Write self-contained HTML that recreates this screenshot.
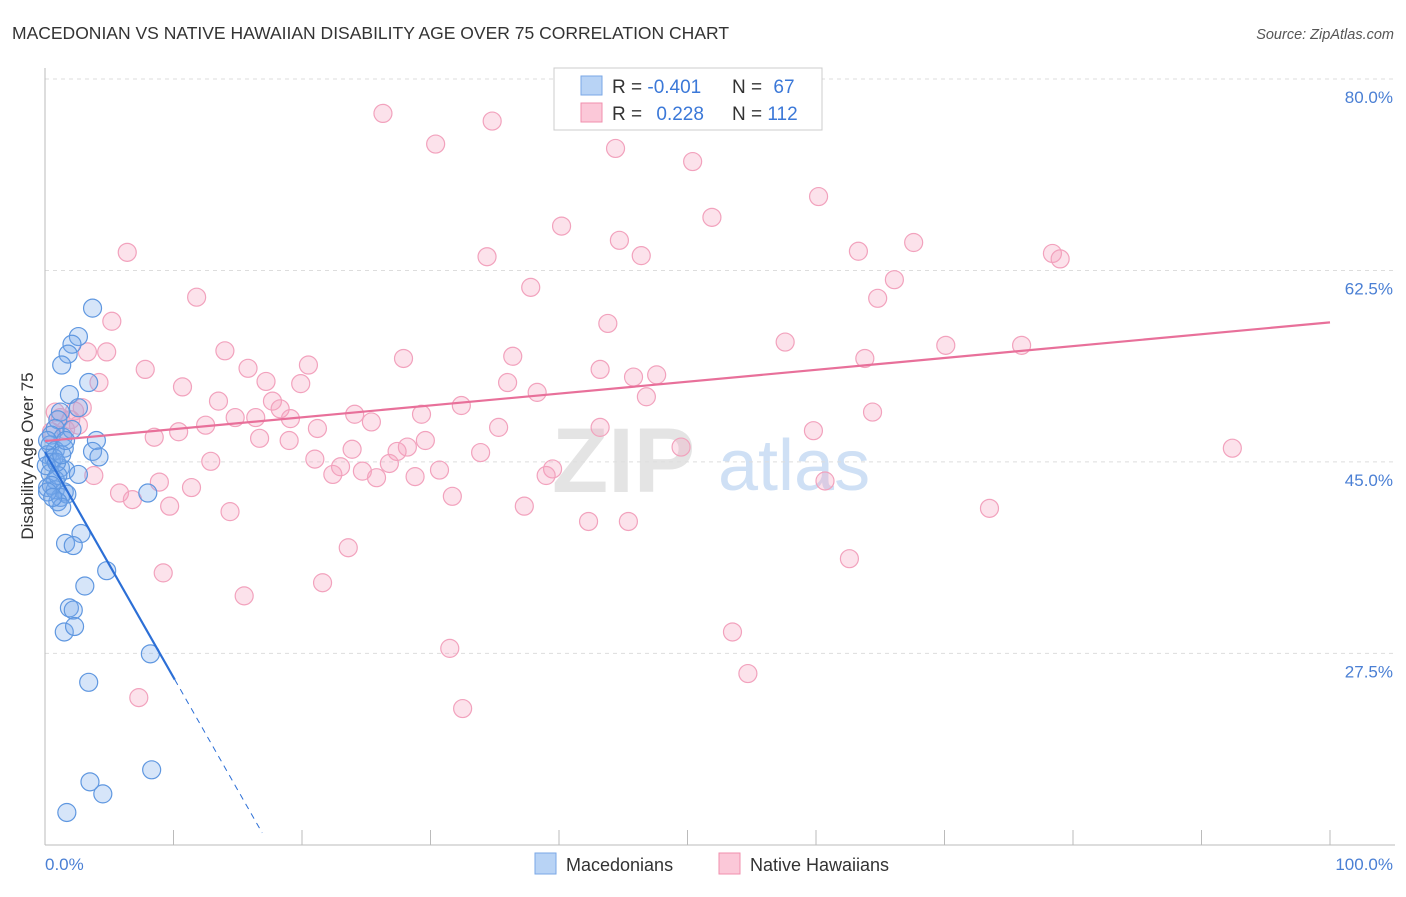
<!DOCTYPE html>
<html><head><meta charset="utf-8"><style>
body{margin:0;background:#fff;font-family:"Liberation Sans",sans-serif;}
svg text{font-family:"Liberation Sans",sans-serif;}
</style></head><body>
<svg id="chart" width="1406" height="892" xmlns="http://www.w3.org/2000/svg">
<text x="12" y="39" font-size="17.5" fill="#333">MACEDONIAN VS NATIVE HAWAIIAN DISABILITY AGE OVER 75 CORRELATION CHART</text>
<text x="1394" y="39" font-size="14.5" fill="#555" text-anchor="end" font-style="italic">Source: ZipAtlas.com</text>
<g>
<text x="552" y="492" font-size="92" font-family="Liberation Serif" fill="#e4e4e4" font-weight="bold">ZIP</text>
<text x="718" y="490" font-size="72" fill="#cfe0f5">atlas</text>
</g>
<g id="grid"></g>
<line x1="45" y1="68" x2="45" y2="845" stroke="#bbb"/>
<line x1="45" y1="845" x2="1395" y2="845" stroke="#bbb"/>
<g id="ticks"></g>
<text transform="translate(33,456) rotate(-90)" font-size="17" fill="#333" text-anchor="middle">Disability Age Over 75</text>
<text x="45" y="870" font-size="17" fill="#4a7fd4">0.0%</text>
<text x="1393" y="870" font-size="17" fill="#4a7fd4" text-anchor="end">100.0%</text>
<g id="points"></g>
<g id="lines"></g>
<g>
<rect x="554" y="68" width="268" height="62" fill="#fff" stroke="#ccc"/>
<rect x="581" y="76" width="21" height="19" fill="#b8d3f5" stroke="#7aa7e6"/>
<rect x="581" y="103" width="21" height="19" fill="#fbc8d8" stroke="#f08fae"/>
<text x="612" y="93" font-size="19" fill="#333">R = <tspan fill="#3b78d8">-0.401</tspan></text>
<text x="732" y="93" font-size="19" fill="#333">N = <tspan fill="#3b78d8" dx="6">67</tspan></text>
<text x="612" y="120" font-size="19" fill="#333">R = <tspan fill="#3b78d8" dx="9">0.228</tspan></text>
<text x="732" y="120" font-size="19" fill="#333">N = <tspan fill="#3b78d8">112</tspan></text>
</g>
<g>
<rect x="535" y="853" width="21" height="21" fill="#b8d3f5" stroke="#7aa7e6"/>
<text x="566" y="871" font-size="18" fill="#333">Macedonians</text>
</g>
<g>
<rect x="719" y="853" width="21" height="21" fill="#fbc8d8" stroke="#f08fae"/>
<text x="750" y="871" font-size="18" fill="#333">Native Hawaiians</text>
</g>
</svg>
<script>
const yTicks=[80,62.5,45,27.5];
const yTickLabels=["80.0%","62.5%","45.0%","27.5%"];
const xTicks=[0,10,20,30,40,50,60,70,80,90,100];
const blueX=[3.7,2.6,2.1,1.8,1.3,3.4,1.9,2.6,1.2,1.0,0.8,0.5,1.4,2.1,4.0,0.4,0.8,1.5,3.7,4.2,0.2,0.5,1.2,1.6,2.6,0.4,0.8,0.2,0.8,1.5,1.2,1.7,8.0,1.0,1.3,2.8,1.6,2.2,4.8,3.1,1.9,2.2,1.5,2.3,8.2,3.4,8.3,3.5,4.5,1.7,0.2,0.7,0.1,1.0,0.5,0.2,0.9,1.3,0.6,1.6];
const blueY=[60.7,58.1,57.4,56.5,55.5,53.9,52.8,51.6,51.2,50.5,49.7,49.1,48.9,49.6,48.6,48.2,47.7,47.9,47.6,47.1,47.3,46.6,46.1,45.9,45.5,45.6,45.0,44.3,44.1,43.9,43.4,43.7,43.8,43.0,42.5,40.1,39.2,39.0,36.7,35.3,33.3,33.1,31.1,31.6,29.1,26.5,18.5,17.4,16.3,14.6,48.6,47.0,46.3,45.4,44.5,43.9,46.6,47.3,43.4,48.6];
const pinkX=[26.3,34.8,30.4,44.4,50.4,60.2,40.2,51.9,44.7,6.4,34.4,46.4,63.3,67.6,78.4,79.0,66.1,37.8,64.8,11.8,5.2,43.8,57.6,70.1,76.0,14.0,3.3,4.8,27.9,36.4,63.8,20.5,7.8,15.8,43.2,4.2,10.7,17.2,19.9,36.0,45.8,47.6,38.3,46.8,13.5,17.7,2.9,2.3,32.4,24.1,2.0,14.8,16.4,18.3,19.1,29.3,25.4,64.4,12.5,21.2,35.3,43.2,10.4,8.5,16.7,19.0,29.6,28.2,27.4,23.9,33.9,49.5,92.4,59.8,12.9,21.0,26.8,23.0,24.7,30.7,39.5,22.4,39.0,25.8,3.8,28.8,8.9,11.4,60.7,5.8,6.8,31.7,9.7,37.3,14.4,73.5,42.3,45.4,23.6,62.6,9.2,21.6,15.5,53.5,31.5,54.7,7.3,32.5,0.8,1.2,2.6,0.5,1.6];
const pinkY=[78.5,77.8,75.7,75.3,74.1,70.9,68.2,69.0,66.9,65.8,65.4,65.5,65.9,66.7,65.7,65.2,63.3,62.6,61.6,61.7,59.5,59.3,57.6,57.3,57.3,56.8,56.7,56.7,56.1,56.3,56.1,55.5,55.1,55.2,55.1,53.9,53.5,54.0,53.8,53.9,54.4,54.6,53.0,52.6,52.2,52.2,51.6,51.3,51.8,51.0,50.5,50.7,50.7,51.5,50.6,51.0,50.3,51.2,50.0,49.7,49.8,49.8,49.4,48.9,48.8,48.6,48.6,48.0,47.6,47.8,47.5,48.0,47.9,49.5,46.7,46.9,46.5,46.2,45.8,45.9,46.0,45.5,45.4,45.2,45.4,45.3,44.8,44.3,44.9,43.8,43.2,43.5,42.6,42.6,42.1,42.4,41.2,41.2,38.8,37.8,36.5,35.6,34.4,31.1,29.6,27.3,25.1,24.1,51.2,50.7,50.0,49.4,49.6];
const blueTrend=[47.55,-2.06];
const pinkTrend=[48.55,0.1085];
const NS='http://www.w3.org/2000/svg';
function X(v){return 45+v*12.85;}
function Y(v){return 97+(80-v)*10.94;}
function mk(tag,attrs,parent){const e=document.createElementNS(NS,tag);for(const k in attrs)e.setAttribute(k,attrs[k]);parent.appendChild(e);return e;}
const grid=document.getElementById('grid');
yTicks.forEach((t,i)=>{
 const l=mk('line',{x1:45,x2:1395,y1:Y(t)-18,y2:Y(t)-18,stroke:'#ddd','stroke-dasharray':'4,4'},grid);
 
 
 const tx=mk('text',{x:1393,y:Y(t)+6,'font-size':17,fill:'#4a7fd4','text-anchor':'end'},grid);
 tx.textContent=yTickLabels[i];
 
 
});
const ticks=document.getElementById('ticks');
xTicks.forEach(t=>{
 const l=mk('line',{x1:X(t),x2:X(t),y1:830,y2:845,stroke:'#bbb'},ticks);
 
 
});
const pts=document.getElementById('points');
pinkX.forEach((x,i)=>{
 const c=mk('circle',{cx:X(x),cy:Y(pinkY[i]),r:9,fill:'rgba(246,160,190,0.3)',stroke:'#f2a2bd','stroke-width':1.2},pts);
 
 
});
blueX.forEach((x,i)=>{
 const c=mk('circle',{cx:X(x),cy:Y(blueY[i]),r:9,fill:'rgba(120,170,235,0.3)',stroke:'#5f97e0','stroke-width':1.2},pts);
 
 
});
const lines=document.getElementById('lines');
const bl=mk('line',{x1:X(0),y1:Y(blueTrend[0]),x2:X(10.1),y2:Y(blueTrend[0]+blueTrend[1]*10.1),stroke:'#2c6fd6','stroke-width':2.2},lines);


const bd=mk('line',{x1:X(10.1),y1:Y(blueTrend[0]+blueTrend[1]*10.1),x2:X(16.9),y2:Y(blueTrend[0]+blueTrend[1]*16.9),stroke:'#2c6fd6','stroke-width':1,'stroke-dasharray':'6,5'},lines);


const pl=mk('line',{x1:X(0),y1:Y(pinkTrend[0]),x2:X(100),y2:Y(pinkTrend[0]+pinkTrend[1]*100),stroke:'#e8709a','stroke-width':2.2},lines);


</script>
</body></html>
